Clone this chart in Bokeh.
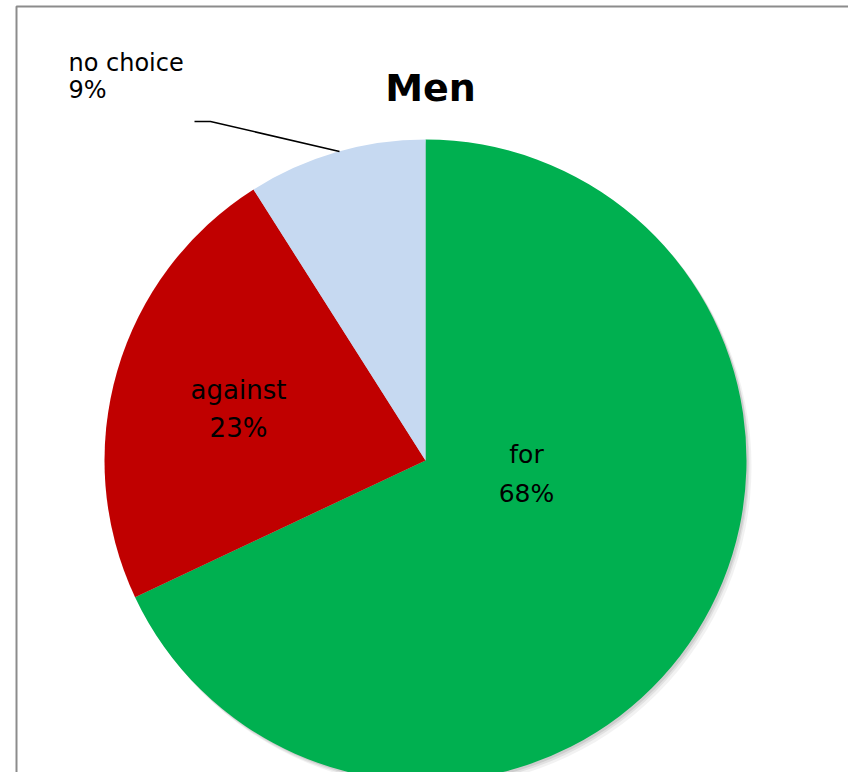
import math
from bokeh.plotting import figure
from bokeh.models import Range1d, ColumnDataSource
from bokeh.core.properties import value
from bokeh.embed import file_html
from bokeh.resources import INLINE

# ---- data ----
categories = ["for", "against", "no choice"]
values = [68, 23, 9]
colors = ["#00B050", "#C00000", "#C6D9F1"]
title_text = "Men"

W, H = 848, 772
p = figure(width=W, height=H, output_backend="svg", toolbar_location=None,
           x_range=Range1d(0, W), y_range=Range1d(780 - H, 780),
           min_border=0)
p.axis.visible = False
p.grid.visible = False
p.outline_line_color = None
p.background_fill_color = "white"
p.border_fill_color = "white"

def Y(yref):
    return 780 - yref

# frame border
p.line(x=[16, 16, 860, 860], y=[Y(790), Y(6), Y(6), Y(790)],
       line_color="#8c8c8c", line_width=2)

cx, cy, r = 425, Y(460), 321

# soft shadow
for dx, dy, a in [(5, -6, 0.10), (3, -4, 0.15), (2, -2, 0.2)]:
    p.circle(x=[cx + dx], y=[cy + dy], radius=r, fill_color="#7f7f7f",
             fill_alpha=a, line_color=None)

total = sum(values)
starts, ends = [], []
acc = 0.0
for v in values:
    a0 = math.pi / 2 - 2 * math.pi * acc / total
    acc += v
    a1 = math.pi / 2 - 2 * math.pi * acc / total
    starts.append(a0)
    ends.append(a1)

src = ColumnDataSource(dict(start=starts, end=ends, color=colors, cat=categories))
p.wedge(x=cx, y=cy, radius=r, start_angle="start", end_angle="end",
        direction="clock", fill_color="color", line_color=None, source=src)

pct = [f"{round(100 * v / total)}%" for v in values]

font = value("DejaVu Sans")

def label(xs, baselines, texts, size, align="center", bold=False):
    off = 0.38 * size
    p.text(x=xs, y=[Y(b) + off for b in baselines], text=texts,
           text_font=font, text_font_size=f"{size}px", text_align=align,
           text_baseline="alphabetic", text_color="black",
           text_font_style="bold" if bold else "normal")

# inner labels
label([526, 526], [463, 502], [categories[0], pct[0]], 25)
label([238, 238], [399, 437], [categories[1], pct[1]], 26)
# outside label
label([68, 68], [72, 99], [categories[2], pct[2]], 24, align="left")
# leader line
p.line(x=[194, 210, 339], y=[Y(121), Y(121), Y(151)],
       line_color="black", line_width=1.5)

# title
label([430], [102], [title_text], 38, bold=True)

open("out.html", "w").write(file_html(p, INLINE))
